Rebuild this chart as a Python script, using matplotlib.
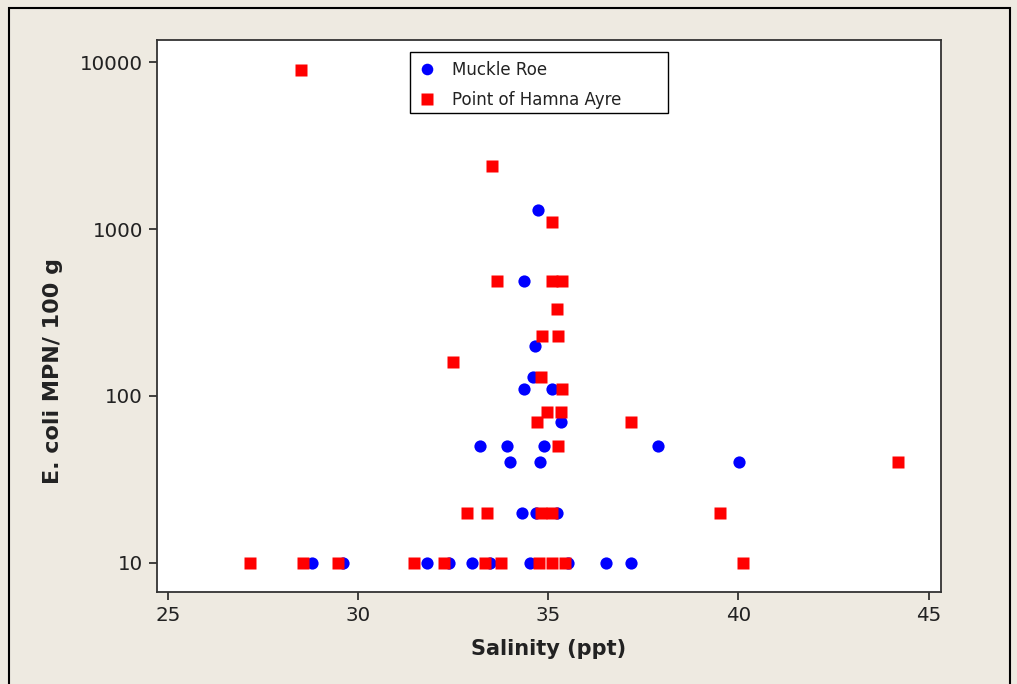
import matplotlib
matplotlib.use('Agg')
import matplotlib.pyplot as plt
from matplotlib.ticker import FixedLocator, FixedFormatter, NullLocator
from matplotlib.patches import Rectangle

# Muckle Roe samples: salinity (ppt) and E. coli MPN/100 g
muckle_sal = [34.72, 34.36, 34.65, 34.59, 34.36, 35.09, 35.33,
              33.20, 33.91, 34.88, 37.88, 33.99, 34.78, 40.01,
              34.30, 34.67, 35.22,
              28.78, 29.60, 31.81, 32.38, 32.99, 33.46, 34.51, 35.51, 36.51, 37.17]
muckle_ecoli = [1300, 490, 200, 130, 110, 110, 70,
                50, 50, 50, 50, 40, 40, 40,
                20, 20, 20,
                10, 10, 10, 10, 10, 10, 10, 10, 10, 10]

# Point of Hamna Ayre samples
hamna_sal = [28.50, 33.52, 35.09, 33.65, 35.09, 35.35, 35.22, 34.83, 35.25,
             32.49, 34.80, 35.35, 34.96, 35.33, 34.70, 37.17, 35.25, 44.19,
             32.86, 33.38, 34.80, 35.09, 39.51,
             27.16, 28.55, 29.47, 31.47, 32.25, 33.33, 33.75, 34.75, 35.09, 35.43, 40.11]
hamna_ecoli = [9000, 2400, 1100, 490, 490, 490, 330, 230, 230,
               160, 130, 110, 80, 80, 70, 70, 50, 40,
               20, 20, 20, 20, 20,
               10, 10, 10, 10, 10, 10, 10, 10, 10, 10, 10]

x_ticks = [25, 30, 35, 40, 45]
y_ticks = [10, 100, 1000, 10000]
y_labels = ['10', '100', '1000', '10000']

plt.rcParams['font.family'] = ['DejaVu Sans']

fig = plt.figure(figsize=(10.17, 6.84), dpi=100, facecolor='#EEEAE1')
ax = fig.add_axes([0.1544, 0.1345, 0.7706, 0.807])
ax.set_facecolor('white')

ax.plot(muckle_sal, muckle_ecoli, 'o', color='#0000FF', ms=8.8, mec='none',
        label='Muckle Roe', zorder=3)
ax.plot(hamna_sal, hamna_ecoli, 's', color='#FF0000', ms=8.8, mec='none',
        label='Point of Hamna Ayre', zorder=4)

ax.set_yscale('log')
ax.set_xlim(24.71, 45.32)
ax.set_ylim(6.7, 13550)
ax.xaxis.set_major_locator(FixedLocator(x_ticks))
ax.yaxis.set_major_locator(FixedLocator(y_ticks))
ax.yaxis.set_major_formatter(FixedFormatter(y_labels))
ax.yaxis.set_minor_locator(NullLocator())
ax.tick_params(direction='out', length=6, width=1.2, labelsize=14.3,
               colors='#222222', pad=4)

for s in ax.spines.values():
    s.set_linewidth(1.3)
    s.set_color('#333333')

ax.set_xlabel('Salinity (ppt)', fontsize=15, fontweight='bold', labelpad=10,
              color='#222222')
ax.set_ylabel('E. coli MPN/ 100 g', fontsize=16, fontweight='bold',
              color='#222222')
ax.yaxis.set_label_coords(-0.12, 0.40)

# legend entries without frame; a plain box is drawn around them
leg = ax.legend(loc='upper left', bbox_to_anchor=(0.3227, 0.978), fontsize=12,
                frameon=False, borderaxespad=0, borderpad=0.55,
                handletextpad=0.95, labelspacing=0.68,
                handlelength=1.0, markerscale=0.95)
for t in leg.get_texts():
    t.set_color('#222222')
ax.add_patch(Rectangle((0.3227, 0.8678), 0.3291, 0.1102, transform=ax.transAxes,
                       fill=False, edgecolor='black', linewidth=1.0, zorder=6))

# outer window frame
fig.patches.append(Rectangle((9 / 1017, -0.01), 1001 / 1017, 1 - 8 / 684 + 0.01,
                             transform=fig.transFigure, fill=False,
                             edgecolor='black', linewidth=1.5))

fig.savefig('out.png', dpi=100, facecolor=fig.get_facecolor())
